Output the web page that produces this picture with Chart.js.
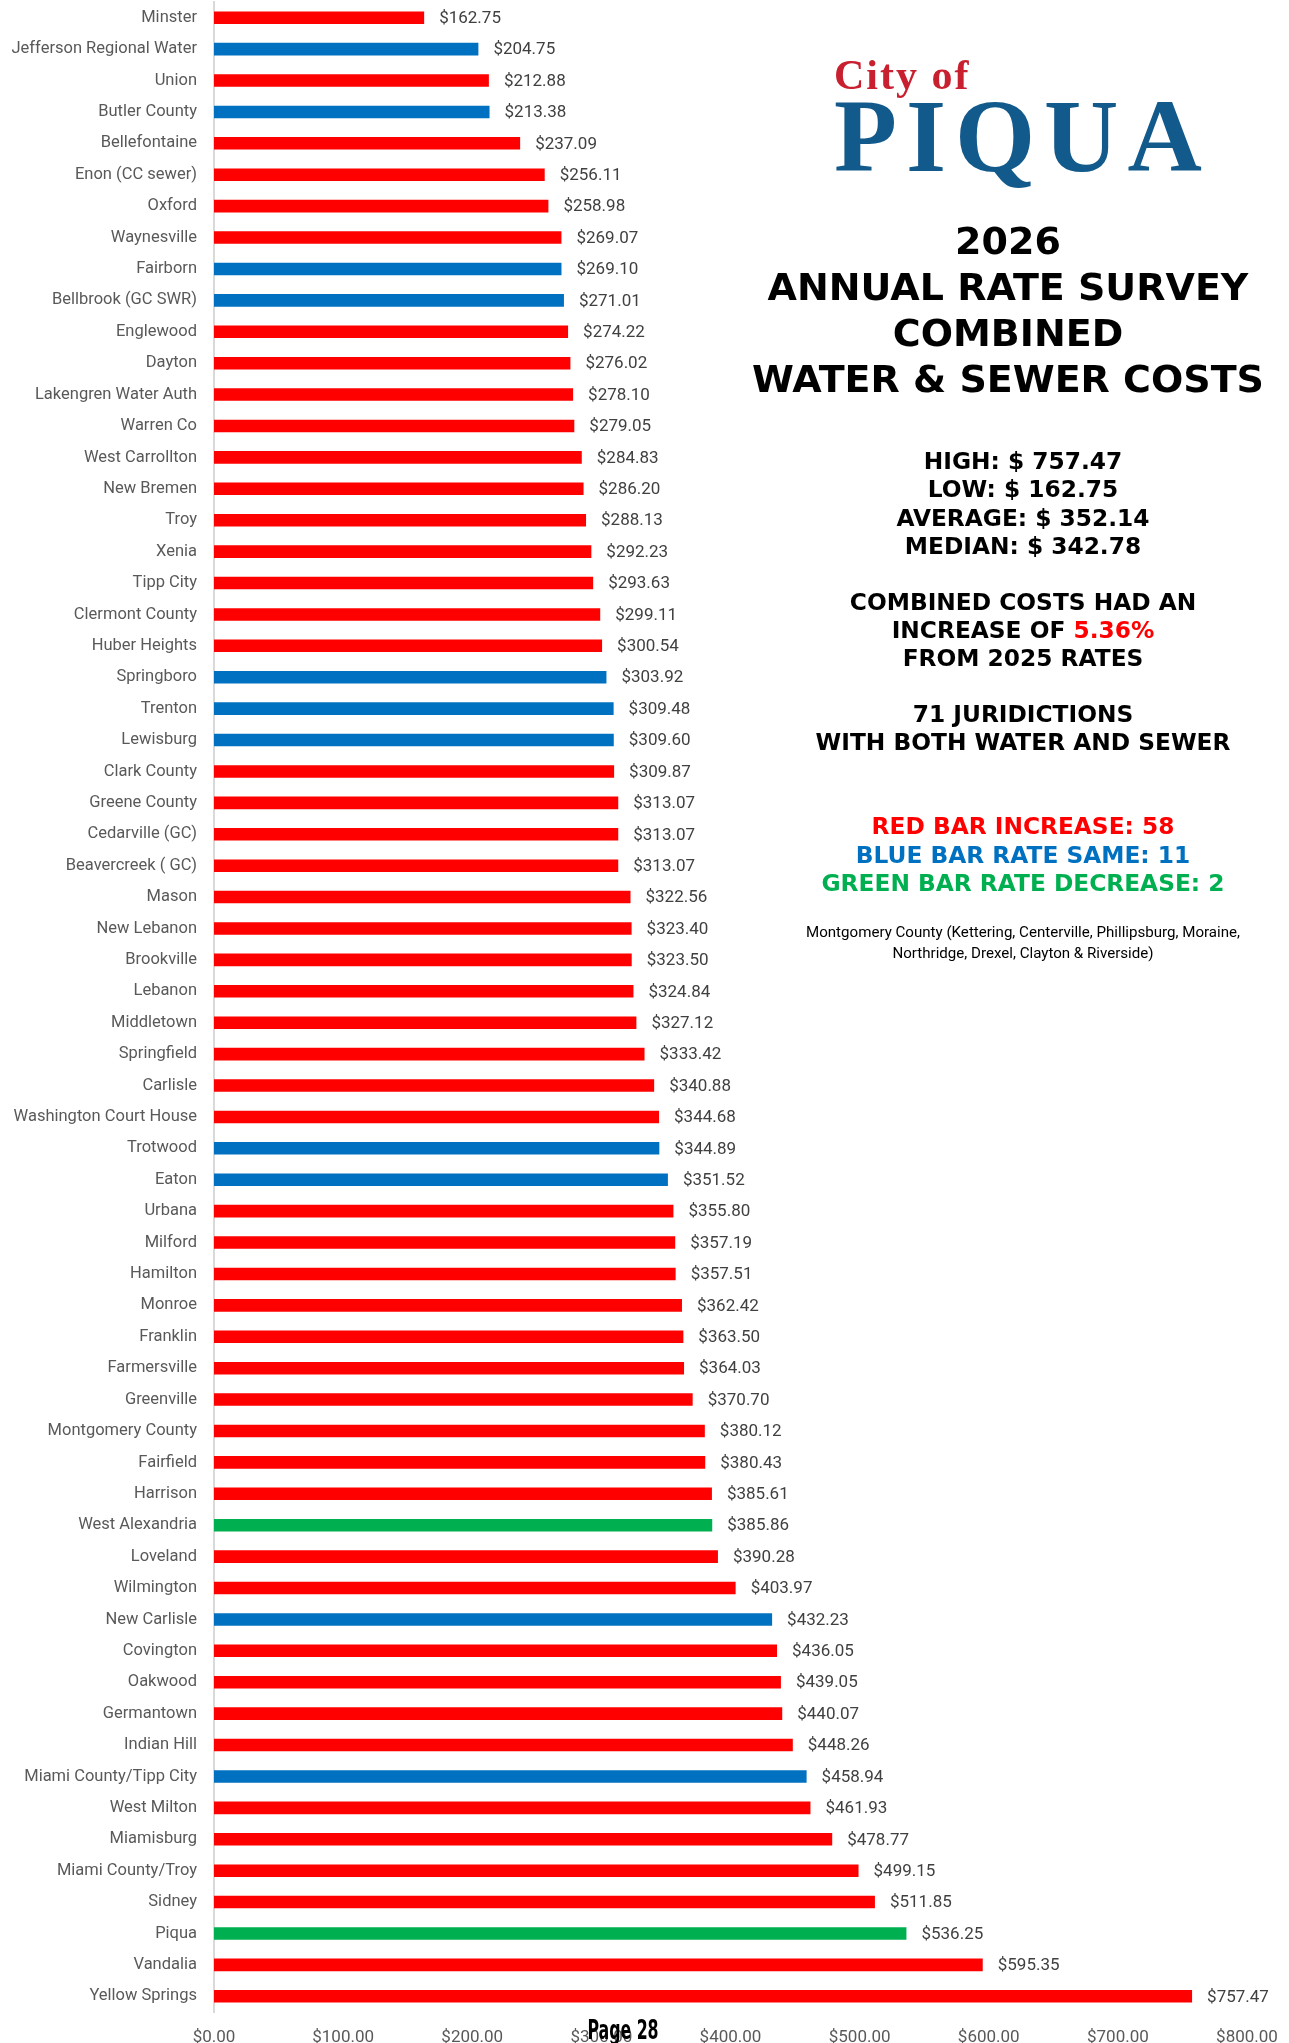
<!DOCTYPE html>
<html>
<head>
<meta charset="utf-8">
<script src="https://cdn.jsdelivr.net/npm/chart.js@4"></script>
<style>
   body { margin: 0; background: #fff; }
   #wrap { position: absolute; left: 0; top: 0; width: 1289px; height: 2043px; }
   .panel { position: absolute; left: 755px; width: 536px; text-align: center; white-space: nowrap; font-family: "DejaVu Sans", sans-serif; font-weight: bold; font-size: 23.3px; line-height: 28px; color: #000; }
   .red { color: #ff0000; }
   .blue { color: #0070c0; }
   .green { color: #00b050; }
</style>
</head>
<body>
<div id="wrap">
   <canvas id="canvas" width="1289" height="2043"></canvas>

   <!-- logo -->
   <div style="position:absolute;left:834px;top:54px;font-family:'Liberation Serif',serif;font-weight:bold;font-size:42px;line-height:42px;letter-spacing:2px;color:#c8202f;">City of</div>
   <div style="position:absolute;left:834px;top:85px;font-family:'Liberation Serif',serif;font-weight:bold;font-size:103px;line-height:103px;letter-spacing:9px;color:#135a8c;">PIQUA</div>

   <div class="panel" style="left:740px;top:218px;font-size:38px;line-height:46px;">2026<br>ANNUAL RATE SURVEY<br>COMBINED<br>WATER &amp; SEWER COSTS</div>
   <div class="panel" style="top:447px;line-height:28.3px;">HIGH: $ 757.47<br>LOW: $ 162.75<br>AVERAGE: $ 352.14<br>MEDIAN: $ 342.78</div>
   <div class="panel" style="top:588px;">COMBINED COSTS HAD AN<br>INCREASE OF <span class="red">5.36%</span><br>FROM 2025 RATES</div>
   <div class="panel" style="top:700px;">71 JURIDICTIONS<br>WITH BOTH WATER AND SEWER</div>
   <div class="panel" style="top:812px;line-height:28.5px;"><span class="red">RED BAR INCREASE: 58</span><br><span class="blue">BLUE BAR RATE SAME: 11</span><br><span class="green">GREEN BAR RATE DECREASE: 2</span></div>
   <div class="panel" style="top:922px;font-family:Roboto,sans-serif;font-weight:normal;font-size:15.1px;line-height:21px;">Montgomery County (Kettering, Centerville, Phillipsburg, Moraine,<br>Northridge, Drexel, Clayton &amp; Riverside)</div>

   <div style="position:absolute;left:543px;top:2013px;width:160px;text-align:center;white-space:nowrap;font-family:'Liberation Sans Narrow','DejaVu Sans Condensed',sans-serif;font-weight:bold;font-size:27px;line-height:34px;color:#000;transform:scaleX(0.65);">Page 28</div>
</div>

<script>
// jurisdictions, cheapest first
var towns = ['Minster', 'Jefferson Regional Water', 'Union', 'Butler County', 'Bellefontaine',
   'Enon (CC sewer)', 'Oxford', 'Waynesville', 'Fairborn', 'Bellbrook (GC SWR)', 'Englewood',
   'Dayton', 'Lakengren Water Auth', 'Warren Co', 'West Carrollton', 'New Bremen', 'Troy',
   'Xenia', 'Tipp City', 'Clermont County', 'Huber Heights', 'Springboro', 'Trenton',
   'Lewisburg', 'Clark County', 'Greene County', 'Cedarville (GC)', 'Beavercreek ( GC)',
   'Mason', 'New Lebanon', 'Brookville', 'Lebanon', 'Middletown', 'Springfield', 'Carlisle',
   'Washington Court House', 'Trotwood', 'Eaton', 'Urbana', 'Milford', 'Hamilton', 'Monroe',
   'Franklin', 'Farmersville', 'Greenville', 'Montgomery County', 'Fairfield', 'Harrison',
   'West Alexandria', 'Loveland', 'Wilmington', 'New Carlisle', 'Covington', 'Oakwood',
   'Germantown', 'Indian Hill', 'Miami County/Tipp City', 'West Milton', 'Miamisburg',
   'Miami County/Troy', 'Sidney', 'Piqua', 'Vandalia', 'Yellow Springs'
];

// combined annual water + sewer cost
var costs = [162.75, 204.75, 212.88, 213.38, 237.09, 256.11, 258.98, 269.07, 269.10, 271.01,
   274.22, 276.02, 278.10, 279.05, 284.83, 286.20, 288.13, 292.23, 293.63, 299.11, 300.54,
   303.92, 309.48, 309.60, 309.87, 313.07, 313.07, 313.07, 322.56, 323.40, 323.50, 324.84,
   327.12, 333.42, 340.88, 344.68, 344.89, 351.52, 355.80, 357.19, 357.51, 362.42, 363.50,
   364.03, 370.70, 380.12, 380.43, 385.61, 385.86, 390.28, 403.97, 432.23, 436.05, 439.05,
   440.07, 448.26, 458.94, 461.93, 478.77, 499.15, 511.85, 536.25, 595.35, 757.47
];

// rate change vs last year: up / same / down
var change = ['up', 'same', 'up', 'same', 'up', 'up', 'up', 'up', 'same', 'same', 'up',
   'up', 'up', 'up', 'up', 'up', 'up', 'up', 'up', 'up', 'up', 'same', 'same', 'same',
   'up', 'up', 'up', 'up', 'up', 'up', 'up', 'up', 'up', 'up', 'up', 'up', 'same', 'same',
   'up', 'up', 'up', 'up', 'up', 'up', 'up', 'up', 'up', 'up', 'down', 'up', 'up', 'same',
   'up', 'up', 'up', 'up', 'same', 'up', 'up', 'up', 'up', 'down', 'up', 'up'
];

var xTicks = [0, 100, 200, 300, 400, 500, 600, 700, 800];

var changeColors = { up: '#ff0000', same: '#0070c0', down: '#00b050' };

function money(v) {
   return '$' + Number(v).toFixed(2);
}

// value labels at the end of each bar
var barLabels = {
   id: 'barLabels',
   afterDatasetsDraw: function (chart) {
      var ctx = chart.ctx;
      var meta = chart.getDatasetMeta(0);
      ctx.save();
      ctx.font = '17px Roboto';
      ctx.fillStyle = '#404040';
      ctx.textAlign = 'left';
      ctx.textBaseline = 'middle';
      meta.data.forEach(function (bar, i) {
         ctx.fillText(money(costs[i]), bar.x + 15, bar.y + 1);
      });
      ctx.restore();
   }
};

window.onload = function () {
   var ctx = document.getElementById('canvas').getContext('2d');
   window.myBar = new Chart(ctx, {
      type: 'bar',
      data: {
         labels: towns,
         datasets: [{
            data: costs,
            backgroundColor: change.map(function (c) { return changeColors[c]; }),
            barPercentage: 0.4,
            categoryPercentage: 1
         }]
      },
      plugins: [barLabels],
      options: {
         indexAxis: 'y',
         responsive: false,
         animation: false,
         layout: {
            padding: { top: 2, right: 42, left: 0, bottom: 0 }
         },
         plugins: {
            legend: { display: false },
            tooltip: { enabled: false }
         },
         scales: {
            x: {
               min: 0,
               max: 800,
               afterBuildTicks: function (scale) {
                  scale.ticks = xTicks.map(function (v) { return { value: v }; });
               },
               afterFit: function (scale) {
                  scale.height = 31;
                  scale.paddingLeft = 0;
                  scale.paddingRight = 0;
               },
               grid: { display: false, drawTicks: false },
               border: { display: false },
               ticks: {
                  padding: 16,
                  maxRotation: 0,
                  color: '#595959',
                  font: { family: 'Roboto', size: 17 },
                  callback: function (v) { return money(v); }
               }
            },
            y: {
               afterFit: function (scale) {
                  scale.width = 214;
                  scale.paddingTop = 0;
                  scale.paddingBottom = 0;
               },
               grid: { display: false, drawTicks: false },
               border: { display: true, color: '#d9d9d9', width: 2 },
               ticks: {
                  padding: 17,
                  autoSkip: false,
                  color: '#595959',
                  font: { family: 'Roboto', size: 16.5 }
               }
            }
         }
      }
   });
};
</script>
</body>
</html>
